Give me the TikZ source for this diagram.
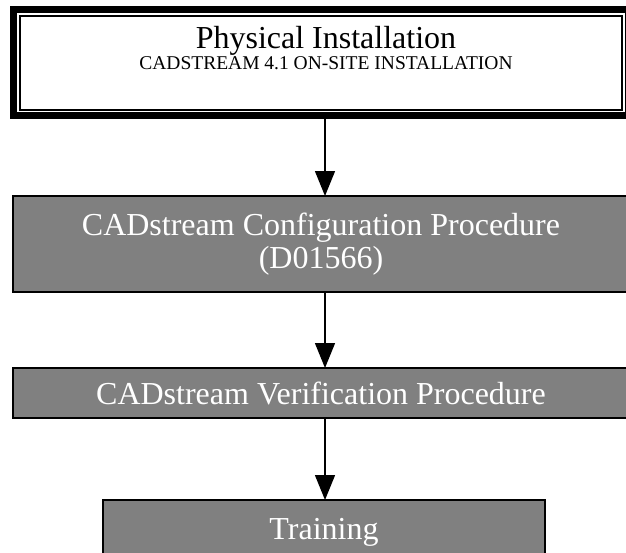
\documentclass[tikz,border=0pt]{standalone}
\usepackage{fontspec}
\setmainfont{Liberation Serif}
\usetikzlibrary{arrows.meta}

\tikzset{
  graybox/.style={draw=black, line width=1.6pt, fill=gray, text=white, outer sep=0pt, inner sep=0pt,
    font=\fontsize{32}{35}\selectfont, align=center},
  flow/.style={line width=1.4pt, -{Triangle[width=20pt,length=25pt]}}
}

\begin{document}
\begin{tikzpicture}[x=1pt,y=1pt]

\useasboundingbox (0,0) rectangle (626,-552);
\clip (0,0) rectangle (626,-552);

\begin{scope}

% top box, double frame
\node[draw=black, line width=1.6pt, fill=white, outer sep=0pt, inner sep=0pt,
  minimum width=602pt, minimum height=94pt] (phys) at (321,-63) {};
\draw[line width=7pt] ([shift={(-6.5,6.5)}]phys.north west) rectangle ([shift={(6.5,-5.5)}]phys.south east);
\node[align=center, inner sep=0pt] (physlabel) at (326,-48)
  {\fontsize{32}{35}\selectfont Physical Installation\\[1pt]
   \fontsize{19.5}{22}\selectfont CADSTREAM 4.1 ON-SITE INSTALLATION};

\node[graybox, minimum width=616pt, minimum height=96pt] (config) at (321,-244)
  {CADstream Configuration Procedure\\[-2pt] (D01566)};
\node[graybox, minimum width=616pt, minimum height=50pt] (verif) at (321,-393)
  {CADstream Verification Procedure};
\node[graybox, minimum width=442pt, minimum height=64pt] (train) at (324,-532)
  {Training};

\draw[flow] ([xshift=4pt,yshift=-6pt]phys.south) -- ([xshift=4pt]config.north);
\draw[flow] ([xshift=4pt]config.south) -- ([xshift=4pt]verif.north);
\draw[flow] ([xshift=4pt]verif.south) -- ([xshift=1pt]train.north);

\end{scope}

\end{tikzpicture}
\end{document}
